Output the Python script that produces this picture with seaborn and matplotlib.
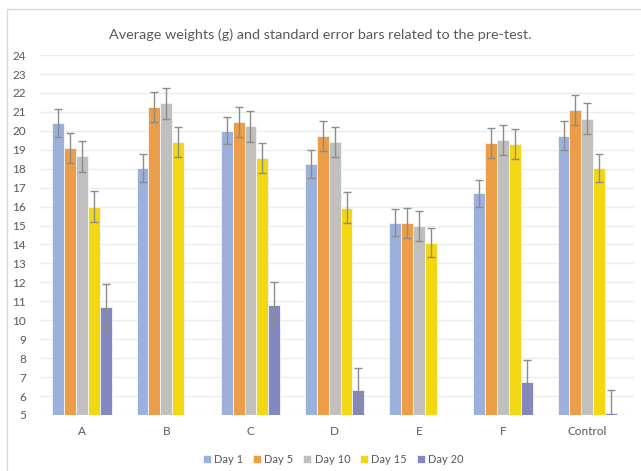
import pandas as pd
import matplotlib.pyplot as plt
import matplotlib.patches as mpatches
import seaborn as sns

# values (g); None = no bar
groups = ["A", "B", "C", "D", "E", "F", "Control"]
days = ["Day 1", "Day 5", "Day 10", "Day 15", "Day 20"]
day1 = [20.4, 18.05, 20.0, 18.25, 15.15, 16.7, 19.75]
day5 = [19.1, 21.25, 20.45, 19.72, 15.15, 19.35, 21.1]
day10 = [18.65, 21.45, 20.25, 19.42, 14.98, 19.53, 20.65]
day15 = [16.0, 19.42, 18.57, 15.95, 14.1, 19.3, 18.03]
day20 = [10.7, None, 10.78, 6.3, None, 6.72, 5.1]
# standard errors
se1 = [0.75, 0.75, 0.72, 0.72, 0.72, 0.72, 0.77]
se5 = [0.78, 0.8, 0.8, 0.8, 0.8, 0.8, 0.8]
se10 = [0.82, 0.8, 0.82, 0.8, 0.8, 0.78, 0.8]
se15 = [0.8, 0.8, 0.78, 0.8, 0.78, 0.78, 0.75]
se20 = [1.2, None, 1.22, 1.2, None, 1.2, 1.2]

colors = ["#9BB1DB", "#EB9D48", "#C1C0BE", "#F2D714", "#8488C2"]

rows = []
for d, vals, errs in zip(days, [day1, day5, day10, day15, day20], [se1, se5, se10, se15, se20]):
    for g, v, e in zip(groups, vals, errs):
        rows.append({"group": g, "day": d, "weight": v, "se": e})
df = pd.DataFrame(rows)

sns.set_style("white")
plt.rcParams["font.family"] = ["Lato", "DejaVu Sans"]
txt = "#595959"

fig = plt.figure(figsize=(6.41, 4.71), dpi=100)
ax = fig.add_axes([0.0624, 0.119, 0.926, 0.764])
fig.patches.append(mpatches.Rectangle((7 / 641, -0.1), 1.1, 1 - 9 / 471 + 0.1, transform=fig.transFigure,
                                      fill=False, edgecolor="#D9D9D9", lw=1))

sns.barplot(data=df.dropna(subset=["weight"]), x="group", y="weight", hue="day", order=groups,
            hue_order=days, palette=colors, saturation=1, width=0.705, errorbar=None, ax=ax,
            edgecolor="#F4F5F9", linewidth=0.6, zorder=2)

# error bars on each bar
bar_sets = list(ax.containers)
for hi, cont in enumerate(bar_sets):
    d = days[hi]
    for bar in cont:
        cx = bar.get_x() + bar.get_width() / 2
        gi = int(round(cx))
        sub = df[(df.group == groups[gi]) & (df.day == d)]
        ax.errorbar(cx, sub.weight.iloc[0], yerr=sub.se.iloc[0], fmt="none", ecolor="#8C8C8C",
                    elinewidth=1, capsize=3, capthick=1, zorder=3)

ax.set_ylim(5, 24)
ax.set_yticks(range(5, 25))
ax.set_xlim(-0.5, 6.55)
ax.grid(axis="y", color="#EBEBEB", lw=1, zorder=0)
ax.set_axisbelow(True)
for s in ax.spines.values():
    s.set_visible(False)
ax.tick_params(axis="both", length=0, labelsize=8.5, labelcolor=txt, pad=8)
ax.tick_params(axis="y", pad=10)
ax.set_xlabel("")
ax.set_ylabel("")

fig.suptitle("Average weights (g) and standard error bars related to the pre-test.",
             x=0.5, y=0.94, fontsize=10.4, color=txt)

ax.legend(loc="upper center", bbox_to_anchor=(0.494, -0.08), ncol=5, frameon=False,
          fontsize=8, labelcolor=txt, handlelength=0.7, handleheight=0.7,
          handletextpad=0.3, columnspacing=0.9)

fig.savefig("out.png", dpi=100)
